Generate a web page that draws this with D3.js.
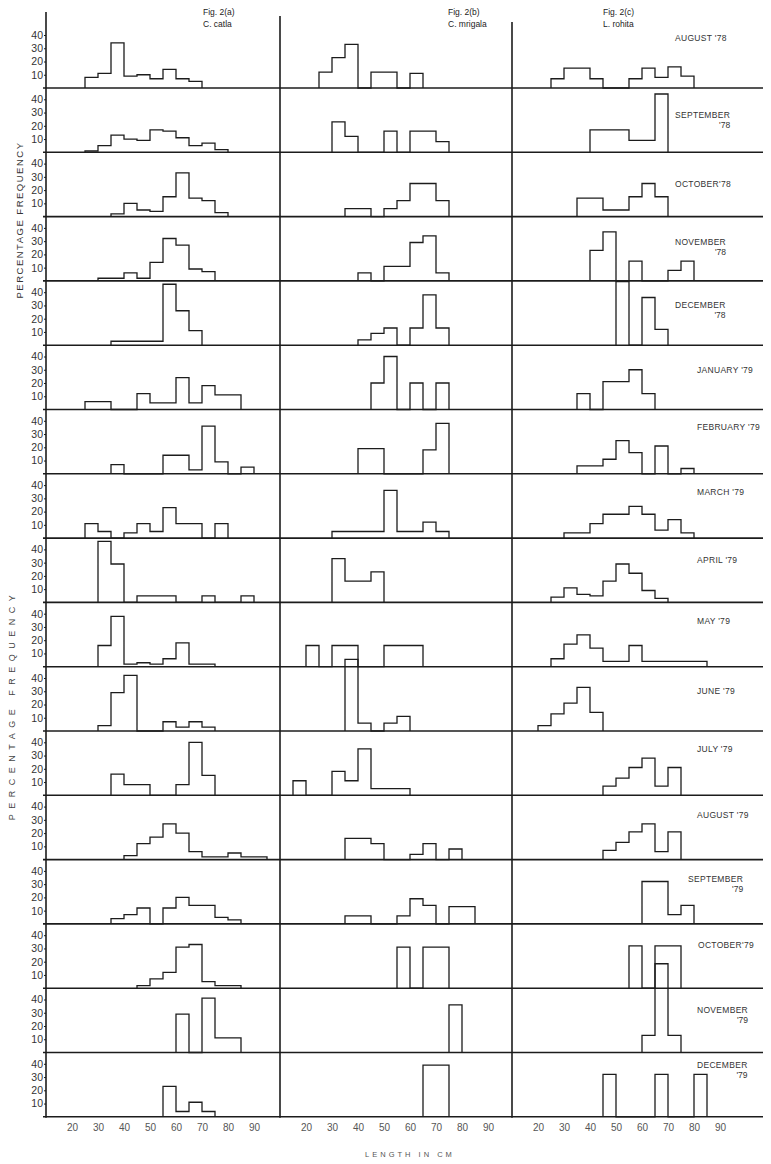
<!DOCTYPE html>
<html>
<head>
<meta charset="utf-8">
<script src="https://cdn.jsdelivr.net/npm/d3@7"></script>
<style>
  body { margin: 0; background: #fff; }
  svg { display: block; font-family: "Liberation Sans", Arial, sans-serif; }
</style>
</head>
<body>
<script>
// month labels (second line where the label wraps)
const monthName = ["AUGUST '78", "SEPTEMBER", "OCTOBER'78", "NOVEMBER", "DECEMBER", "JANUARY '79",
  "FEBRUARY '79", "MARCH '79", "APRIL '79", "MAY '79", "JUNE '79", "JULY '79", "AUGUST '79",
  "SEPTEMBER", "OCTOBER'79", "NOVEMBER", "DECEMBER"];
const monthYear = ["", "'78", "", "'78", "'78", "", "", "", "", "", "", "", "", "'79", "", "'79", "'79"];

const lengthTicks = [20, 30, 40, 50, 60, 70, 80, 90];
const freqTicks = [10, 20, 30, 40];

// first length class (cm) of each month, then % frequency per 5 cm class
const catlaStart = [25, 25, 35, 30, 35, 25, 35, 25, 30, 30, 30, 35, 40, 35, 45, 60, 55];
const catlaFreq = [
  [8, 11, 34, 9, 10, 7, 14, 7, 5],
  [1, 5, 13, 10, 9, 17, 16, 11, 5, 7, 2],
  [2, 10, 5, 4, 15, 33, 14, 12, 3],
  [2, 2, 6, 2, 14, 32, 27, 9, 7],
  [3, 3, 3, 3, 46, 26, 11],
  [6, 6, 0, 0, 12, 5, 5, 24, 5, 18, 11, 11],
  [7, 0, 0, 0, 14, 14, 3, 36, 9, 0, 5],
  [11, 5, 0, 4, 11, 5, 23, 11, 11, 0, 11],
  [46, 29, 0, 5, 5, 5, 0, 0, 5, 0, 0, 5],
  [16, 38, 2, 3, 2, 6, 18, 2, 2],
  [4, 29, 42, 0, 0, 7, 3, 7, 3],
  [16, 8, 8, 0, 0, 8, 40, 15],
  [3, 12, 17, 27, 20, 6, 2, 2, 5, 2, 2],
  [4, 7, 12, 0, 12, 20, 14, 14, 5, 3],
  [2, 7, 12, 31, 33, 5, 2, 2],
  [29, 0, 41, 11, 11],
  [23, 4, 11, 4]
];

const mrigalaStart = [25, 30, 35, 40, 40, 45, 40, 30, 30, 20, 35, 15, 35, 35, 55, 75, 65];
const mrigalaFreq = [
  [12, 23, 33, 0, 12, 12, 0, 11],
  [23, 12, 0, 0, 16, 0, 16, 16, 8],
  [6, 6, 0, 6, 12, 25, 25, 12],
  [6, 0, 11, 11, 29, 34, 6],
  [4, 9, 13, 0, 13, 38, 13],
  [20, 40, 0, 20, 0, 20],
  [19, 19, 0, 0, 0, 18, 38],
  [5, 5, 5, 5, 36, 5, 5, 12, 5],
  [33, 16, 16, 23],
  [16, 0, 16, 16, 0, 0, 16, 16, 16],
  [54, 6, 0, 6, 11],
  [11, 0, 0, 18, 11, 35, 5, 5, 5],
  [16, 16, 12, 0, 0, 4, 12, 0, 8],
  [6, 6, 0, 0, 6, 19, 14, 0, 13, 13],
  [31, 0, 31, 31],
  [36],
  [39, 39]
];

const rohitaStart = [25, 40, 35, 40, 50, 35, 35, 30, 25, 25, 20, 45, 45, 60, 55, 60, 45];
const rohitaFreq = [
  [7, 15, 15, 7, 0, 0, 7, 15, 8, 16, 9],
  [17, 17, 17, 9, 9, 44],
  [14, 14, 5, 5, 15, 25, 15],
  [23, 37, 0, 15, 0, 0, 8, 15],
  [48, 0, 36, 12],
  [12, 0, 21, 21, 30, 12],
  [6, 6, 11, 25, 16, 0, 21, 0, 4],
  [4, 4, 11, 18, 18, 24, 18, 6, 14, 4],
  [4, 11, 6, 5, 16, 29, 22, 9, 3],
  [6, 17, 24, 14, 4, 4, 16, 4, 4, 4, 4, 4],
  [4, 13, 21, 33, 14],
  [7, 13, 21, 28, 7, 21],
  [7, 13, 21, 27, 6, 21],
  [32, 32, 7, 14],
  [32, 0, 32, 32],
  [13, 67, 13],
  [32, 0, 0, 0, 32, 0, 0, 32]
];

const width = 771;
const height = 1164;
const ink = "#1c1c1c";
const colLeft = [46, 280, 512];
const colWidth = 234;
const firstBase = 88;
const rowStep = 64.3;
// month label placement, relative to each row
const labelLeft = [675, 675, 675, 675, 675, 697, 697, 697, 697, 697, 697, 697, 697, 688, 698, 697, 697];
const labelRise = [47, 34, 30, 36, 37, 37, 44, 43, 39, 43, 37, 43, 42, 42, 40, 40, 49];

const svg = d3.select("body").append("svg").attr("width", width).attr("height", height).style("background", "#ffffff");

const xScales = colLeft.map(x0 => d3.scaleLinear().domain([10, 100]).range([x0, x0 + colWidth]));
const baseOf = i => firstBase + i * rowStep;
const yScaleOf = i => d3.scaleLinear().domain([0, 40]).range([baseOf(i), baseOf(i) - 53]);
const lastBase = baseOf(monthName.length - 1);

const species = [
  {title: "Fig. 2(a)", name: "C. catla", start: catlaStart, freq: catlaFreq, tx: 203},
  {title: "Fig. 2(b)", name: "C. mrigala", start: mrigalaStart, freq: mrigalaFreq, tx: 448},
  {title: "Fig. 2(c)", name: "L. rohita", start: rohitaStart, freq: rohitaFreq, tx: 603}
];

// step outline for one month
const step = (x, y) => d3.line().x(d => x(d[0])).y(d => y(d[1])).curve(d3.curveStepAfter);

// row baselines
svg.append("g").selectAll("line").data(monthName).join("line")
  .attr("x1", 43).attr("x2", 763)
  .attr("y1", (d, i) => baseOf(i)).attr("y2", (d, i) => baseOf(i))
  .attr("stroke", ink).attr("stroke-width", 1.6);

// column axes
const axisTop = [12, 16, 22];
svg.append("g").selectAll("line").data(colLeft).join("line")
  .attr("x1", d => d).attr("x2", d => d)
  .attr("y1", (d, i) => axisTop[i]).attr("y2", lastBase + 1)
  .attr("stroke", ink).attr("stroke-width", 1.6);

species.forEach((sp, c) => {
  const x = xScales[c];
  const g = svg.append("g");

  sp.freq.forEach((vals, i) => {
    const y = yScaleOf(i);
    const s = sp.start[i];
    const pts = [[s, 0]].concat(vals.map((v, k) => [s + 5 * k, v]), [[s + 5 * vals.length, 0]]);
    g.append("path").attr("d", step(x, y)(pts))
      .attr("fill", "none").attr("stroke", ink).attr("stroke-width", 1.3);
  });

  // length ticks below the last row
  const ax = svg.append("g").attr("transform", `translate(0,${lastBase + 3})`)
    .call(d3.axisBottom(x).tickValues(lengthTicks).tickSize(0).tickPadding(4).tickFormat(d3.format("d")));
  ax.select(".domain").remove();
  ax.selectAll("text").attr("fill", "#555").style("font-size", "10px").style("font-family", "Liberation Sans, Arial, sans-serif");

  // title
  svg.append("text").attr("x", sp.tx).attr("y", 15).attr("fill", ink)
    .style("font-size", "8.5px").text(sp.title);
  svg.append("text").attr("x", sp.tx).attr("y", 27).attr("fill", ink)
    .style("font-size", "8.5px").text(sp.name);
});

// frequency ticks for the first column
monthName.forEach((m, i) => {
  const ay = svg.append("g").attr("transform", `translate(${colLeft[0]},0)`)
    .call(d3.axisLeft(yScaleOf(i)).tickValues(freqTicks).tickSize(2).tickPadding(1));
  ay.select(".domain").remove();
  ay.selectAll("line").attr("stroke", ink);
  ay.selectAll("text").attr("fill", "#333").style("font-size", "10.5px").style("font-family", "Liberation Sans, Arial, sans-serif");
});

// month labels
monthName.forEach((m, i) => {
  const t = svg.append("text").attr("x", labelLeft[i]).attr("y", baseOf(i) - labelRise[i])
    .attr("fill", "#333").style("font-size", "8.5px").style("letter-spacing", "0.3px").text(m);
  if (monthYear[i]) {
    const bb = t.node().getBBox();
    svg.append("text").attr("x", bb.x + bb.width).attr("y", baseOf(i) - labelRise[i] + 10)
      .attr("text-anchor", "end").attr("fill", "#333").style("font-size", "8.5px").text(monthYear[i]);
  }
});

// axis titles
svg.append("text").attr("transform", "translate(23,220) rotate(-90)").attr("text-anchor", "middle")
  .attr("fill", "#333").style("font-size", "9.5px").style("letter-spacing", "1.5px").text("PERCENTAGE FREQUENCY");
svg.append("text").attr("transform", "translate(15,705) rotate(-90)").attr("text-anchor", "middle")
  .attr("fill", "#444").style("font-size", "9px").style("letter-spacing", "5.5px").text("PERCENTAGE   FREQUENCY");
svg.append("text").attr("x", 410).attr("y", 1157).attr("text-anchor", "middle")
  .attr("fill", "#555").style("font-size", "7.5px").style("letter-spacing", "3px").text("LENGTH  IN  CM");
</script>
</body>
</html>
